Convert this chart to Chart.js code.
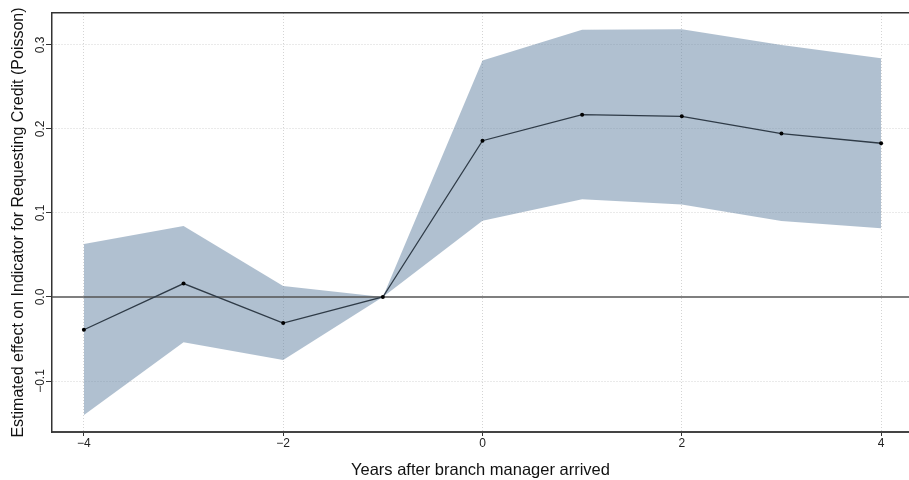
<!DOCTYPE html>
<html>
<head>
<meta charset="utf-8">
<script src="https://cdn.jsdelivr.net/npm/chart.js@4/dist/chart.umd.min.js"></script>
<style>
  html, body { margin: 0; padding: 0; background: #fff; }
  #wrap { width: 909px; height: 480px; }
</style>
</head>
<body>
<div id="wrap"><canvas id="chartEvent" width="909" height="480"></canvas></div>
<script>
const years = [-4, -3, -2, -1, 0, 1, 2, 3, 4];
const estimate = [-0.039, 0.016, -0.031, 0, 0.186, 0.217, 0.215, 0.1945, 0.183];
const upperCI = [0.063, 0.0845, 0.013, 0, 0.2815, 0.318, 0.3187, 0.300, 0.284];
const lowerCI = [-0.1405, -0.054, -0.075, 0, 0.0908, 0.1163, 0.110, 0.0905, 0.0817];
const xTicks = [-4, -2, 0, 2, 4];
const yTicks = [-0.1, 0, 0.1, 0.2, 0.3];

const X_MIN = -4.32;
const X_MAX = 4.28;
const Y_MIN = -0.1607;
const Y_MAX = 0.338;

const FONT = 'Liberation Sans, Arial, Helvetica, sans-serif';
const minus = (s) => s.replace('-', '\u2212');

const toPoints = (ys) => years.map((x, i) => ({ x, y: ys[i] }));

const canvas = document.getElementById('chartEvent');

new Chart(canvas.getContext('2d'), {
  type: 'line',
  data: {
    datasets: [
      {
        label: 'Estimate',
        data: toPoints(estimate),
        borderColor: '#2f3b47',
        borderWidth: 1.3,
        pointRadius: 2,
        pointBackgroundColor: '#000',
        pointBorderColor: '#000',
        pointBorderWidth: 0,
        fill: false,
        order: 0,
      },
      {
        label: 'Zero',
        data: [{ x: X_MIN, y: 0 }, { x: X_MAX, y: 0 }],
        borderColor: '#555',
        borderWidth: 1.5,
        pointRadius: 0,
        fill: false,
        order: 1,
      },
      {
        label: 'Upper',
        data: toPoints(upperCI),
        borderWidth: 0,
        borderColor: 'rgba(0,0,0,0)',
        pointRadius: 0,
        backgroundColor: 'rgba(97,129,161,0.5)',
        fill: '+1',
        order: 2,
      },
      {
        label: 'Lower',
        data: toPoints(lowerCI),
        borderWidth: 0,
        borderColor: 'rgba(0,0,0,0)',
        pointRadius: 0,
        fill: false,
        order: 3,
      },
    ],
  },
  options: {
    responsive: false,
    devicePixelRatio: 1,
    animation: false,
    layout: { autoPadding: false, padding: 0 },
    plugins: {
      legend: { display: false },
      tooltip: { enabled: false },
    },
    scales: {
      x: {
        type: 'linear',
        position: 'bottom',
        min: X_MIN,
        max: X_MAX,
        afterBuildTicks: (axis) => { axis.ticks = xTicks.map((value) => ({ value })); },
        afterFit: (axis) => {
          axis.height = 48;
          axis.paddingLeft = 0;
          axis.paddingRight = 0;
        },
        grid: {
          color: '#d4d4d4',
          lineWidth: 1,
          tickColor: '#333',
          tickLength: 4,
          tickWidth: 1,
        },
        border: { display: true, color: '#444', width: 2, dash: [1, 2] },
        ticks: {
          color: '#222',
          font: { family: FONT, size: 12 },
          padding: 0,
          maxRotation: 0,
          callback: (v) => minus(String(v)),
        },
        title: {
          display: true,
          text: 'Years after branch manager arrived',
          color: '#111',
          font: { family: FONT, size: 16.5 },
          padding: { top: 5, bottom: 0 },
        },
      },
      xTop: {
        type: 'linear',
        position: 'top',
        min: X_MIN,
        max: X_MAX,
        afterFit: (axis) => {
          axis.height = 13;
          axis.paddingLeft = 0;
          axis.paddingRight = 0;
        },
        grid: { display: false, drawTicks: false },
        border: { display: true, color: '#333', width: 1.5 },
        ticks: { display: false },
      },
      y: {
        type: 'linear',
        position: 'left',
        min: Y_MIN,
        max: Y_MAX,
        afterBuildTicks: (axis) => { axis.ticks = yTicks.map((value) => ({ value })); },
        afterFit: (axis) => {
          axis.width = 52;
          axis.paddingTop = 0;
          axis.paddingBottom = 0;
        },
        grid: {
          color: (ctx) => (ctx.tick && Math.abs(ctx.tick.value) < 1e-9 ? 'rgba(0,0,0,0)' : '#d4d4d4'),
          lineWidth: 1,
          tickColor: '#333',
          tickLength: 6,
          tickWidth: 1,
        },
        border: { display: true, color: '#333', width: 1.5, dash: [1, 2] },
        ticks: {
          color: '#222',
          font: { family: FONT, size: 12 },
          minRotation: 90,
          maxRotation: 90,
          crossAlign: 'center',
          padding: -7,
          callback: (v) => minus(Number(v).toFixed(1)),
        },
        title: {
          display: true,
          text: 'Estimated effect on Indicator for Requesting Credit (Poisson)',
          color: '#111',
          font: { family: FONT, size: 16 },
          padding: { top: 9, bottom: 0 },
        },
      },
    },
  },
});
</script>
</body>
</html>
